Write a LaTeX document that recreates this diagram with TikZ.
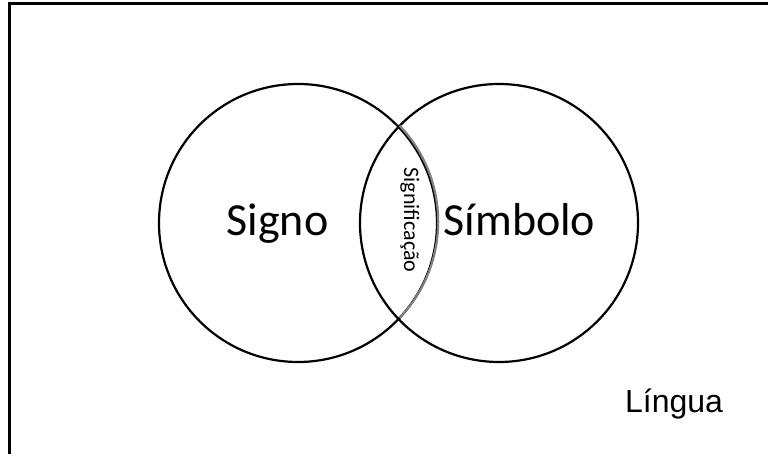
\documentclass[tikz,border=0pt]{standalone}
\usepackage{fontspec}
\setmainfont{Carlito}
\newfontfamily\arialfont{Liberation Sans}
\begin{document}
\begin{tikzpicture}[x=1pt,y=1pt,
  setcircle/.style={circle, draw=black, line width=2.2pt, minimum size=278pt, inner sep=0pt, outer sep=0pt},
  bigtext/.style={font=\fontsize{46}{54}\selectfont, anchor=base, inner sep=0pt},
  smalltext/.style={font=\fontsize{22}{26}\selectfont, anchor=base, inner sep=0pt},
  langtext/.style={font=\arialfont\fontsize{32}{38}\selectfont, anchor=base, inner sep=0pt}]
  \clip (0,0) rectangle (768,454);
  \fill[white] (0,0) rectangle (768,454);
  \draw[line width=2.2pt] (9.5,450.5) rectangle (800,-50);
  \node[setcircle] (signo) at (298,231) {};
  \node[setcircle] (simbolo) at (499,231) {};
  \draw[line width=2.2pt, draw={rgb,255:red,128;green,128;blue,128}] (signo.-43.7) arc[start angle=-43.7, end angle=43.7, radius=139pt];
  \node[bigtext] (t1) at (277.5,218) {Signo};
  \node[bigtext] (t2) at (519.5,218) {Símbolo};
  \node[smalltext, rotate=-90] (t3) at (404,234) {Significação};
  \node[langtext] (t4) at (674,41) {Língua};
\end{tikzpicture}
\end{document}
